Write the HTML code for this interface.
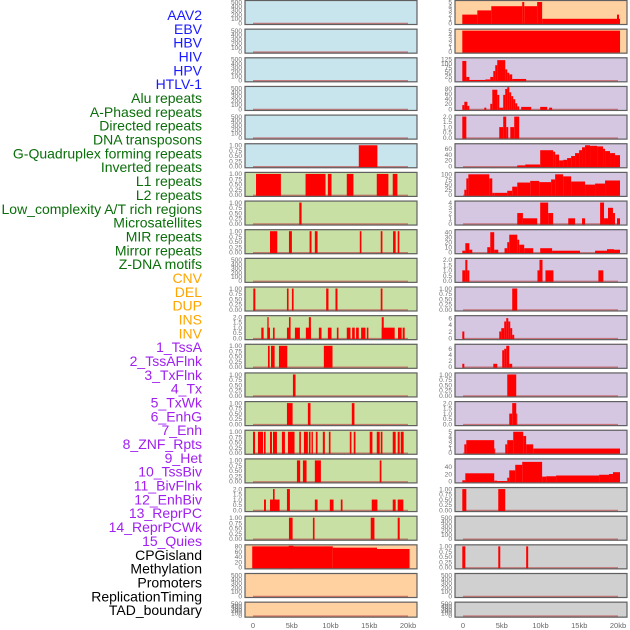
<!DOCTYPE html>
<html><head><meta charset="utf-8">
<style>
body{margin:0;background:#fff;width:630px;height:630px;overflow:hidden;font-family:"Liberation Sans",sans-serif}
svg{display:block}
</style></head><body>
<svg id="chart" width="630" height="630" xmlns="http://www.w3.org/2000/svg"></svg>
<script>
const trackLabels=["AAV2","EBV","HBV","HIV","HPV","HTLV-1","Alu repeats","A-Phased repeats","Directed repeats","DNA transposons","G-Quadruplex forming repeats","Inverted repeats","L1 repeats","L2 repeats","Low_complexity A/T rich regions","Microsatellites","MIR repeats","Mirror repeats","Z-DNA motifs","CNV","DEL","DUP","INS","INV","1_TssA","2_TssAFlnk","3_TxFlnk","4_Tx","5_TxWk","6_EnhG","7_Enh","8_ZNF_Rpts","9_Het","10_TssBiv","11_BivFlnk","12_EnhBiv","13_ReprPC","14_ReprPCWk","15_Quies","CPGisland","Methylation","Promoters","ReplicationTiming","TAD_boundary"];
const labelColors=["#1a1aff","#1a1aff","#1a1aff","#1a1aff","#1a1aff","#1a1aff","#0a6e0a","#0a6e0a","#0a6e0a","#0a6e0a","#0a6e0a","#0a6e0a","#0a6e0a","#0a6e0a","#0a6e0a","#0a6e0a","#0a6e0a","#0a6e0a","#0a6e0a","#ffa500","#ffa500","#ffa500","#ffa500","#ffa500","#a020f0","#a020f0","#a020f0","#a020f0","#a020f0","#a020f0","#a020f0","#a020f0","#a020f0","#a020f0","#a020f0","#a020f0","#a020f0","#a020f0","#a020f0","#000","#000","#000","#000","#000"];
const xTickValues=[0,5,10,15,20];
const xTickLabels=["0","5kb","10kb","15kb","20kb"];
const T500=[0,100,200,300,400,500],T1=[0,0.25,0.5,0.75,1],T2=[0,0.5,1,1.5,2];
const leftTicks=[T500,T500,T500,T500,T500,T1,T1,T1,T1,T500,T1,T2,T1,T1,T1,T1,T1,T2,T1,[0,20,40,60,80],T500,T500];
const leftYmax=[500,500,500,500,500,1,1,1,1,500,1,2,1,1,1,1,1,2,1,80,500,500];
const leftBg=["#c8e4ec","#c8e4ec","#c8e4ec","#c8e4ec","#c8e4ec","#c8e4ec","#c8e0a4","#c8e0a4","#c8e0a4","#c8e0a4","#c8e0a4","#c8e0a4","#c8e0a4","#c8e0a4","#c8e0a4","#c8e0a4","#c8e0a4","#c8e0a4","#c8e0a4","#ffd0a0","#ffd0a0","#ffd0a0"];
const leftSegments=[[],[],[],[],[],
[[13.65,16.05,1]],
[[0.39,3.6,1],[6.78,9.36,1],[9.66,10.13,1],[12.1,12.96,1],[15.97,17.47,1],[18.03,18.63,1]],
[[5.97,6.27,1]],
[[2.19,3.13,1],[4.64,5.02,1],[7.3,7.55,1],[7.98,8.33,1],[13.78,13.99,1],[16.48,16.7,1],[18.07,18.41,1],[18.67,18.88,1]],
[],
[[0.04,0.3,1],[4.38,4.59,1],[5.02,5.24,1],[9.44,9.74,1],[10.64,10.9,1],[16.48,16.7,1]],
[[1.07,1.37,1],[1.85,2.19,1],[2.58,2.79,1],[4.38,4.81,1],[5.41,6.05,1],[6.82,7.47,1],[8.5,8.84,1],[9.66,10.13,1],[10.82,11.03,1],[12.1,12.58,1],[12.79,13.13,1],[13.3,13.65,1],[13.95,14.51,1],[14.68,14.89,1],[16.61,18.28,1],[18.71,19.18,1],[19.31,19.57,1],[1.85,2.02,2],[4.64,4.85,2],[7.21,7.47,2],[16.61,16.87,2]],
[[1.93,2.15,1],[2.32,2.79,1],[3.35,4.42,1],[9.14,10.26,1]],
[[5.15,5.49,1]],
[[4.38,5.11,1],[7.08,7.42,1],[12.75,13.09,1]],
[[0,0.26,1],[0.64,1.29,1],[1.42,1.63,1],[2.19,2.45,1],[2.58,3.09,1],[3.73,4.12,1],[4.51,5.36,1],[5.97,6.18,1],[6.57,7.08,1],[7.21,7.42,1],[7.55,7.73,1],[8.11,8.33,1],[9.01,9.27,1],[9.79,10.0,1],[12.49,12.7,1],[13.0,13.22,1],[15.06,15.41,1],[15.97,16.35,1],[16.48,16.7,1],[18.03,18.41,1],[18.67,18.93,1],[19.06,19.44,1]],
[[5.67,6.09,1],[6.44,6.91,1],[7.98,8.76,1],[16.35,16.57,1]],
[[1.42,1.67,1],[2.19,3.43,1],[7.98,8.33,1],[9.91,10.39,1],[11.33,11.55,1],[15.32,16.05,1],[18.03,18.41,1],[18.67,19.4,1],[2.58,2.79,2],[4.38,4.76,2]],
[[4.64,5.11,1],[7.73,7.94,1],[15.19,15.67,1],[18.67,18.93,1]],
[[-0.1,10.3,80],[10.3,16.0,75],[16.0,20.2,70],[4.6,5.2,82]],
[],[]];
const rightTicks=[[0,1,2,3,4,5],[0,1,2,3,4,5],[0,25,50,75,100,125],[0,20,40,60,80],T2,[0,20,40,60],[0,25,50,75,100],[0,1,2,3,4],[0,10,20,30,40],T2,T1,[0,2,4,6],[0,2,4,6],T1,T2,[0,1,2,3,4,5],[0,20,40],T1,T500,T1,T500,T500];
const rightYmax=[5,5,125,82,2,72,102,4,42,2,1,6.3,7,1,2,5,57,1,500,1,500,500];
const rightBg=["#ffd0a0","#ffd0a0","#d5c6e2","#d5c6e2","#d5c6e2","#d5c6e2","#d5c6e2","#d5c6e2","#d5c6e2","#d5c6e2","#d5c6e2","#d5c6e2","#d5c6e2","#d5c6e2","#d5c6e2","#d5c6e2","#d5c6e2","#d0d0d0","#d0d0d0","#d0d0d0","#d0d0d0","#d0d0d0"];
const rightSegments=[
[[-0.09,1.85,2],[1.85,3.65,3],[3.65,7.64,4],[7.64,7.9,5],[7.9,9.57,4],[9.57,10.21,5],[10.21,19.87,1],[19.87,20.13,2],[20.13,20.26,1]],
[[-0.09,20.26,5]],
[[-0.09,0.43,115],[0.43,0.82,20],[0.82,2.88,2],[2.88,3.52,5],[3.52,3.91,20],[3.91,4.16,55],[4.16,4.42,90],[4.42,5.45,120],[5.45,5.71,65],[5.71,5.97,45],[5.97,6.35,35],[6.35,8.15,8]],
[[-0.09,0.17,15],[0.17,0.56,28],[0.56,0.82,12],[2.75,3.0,5],[3.52,3.78,20],[3.78,4.42,75],[4.42,4.68,55],[4.68,5.19,5],[5.19,5.45,55],[5.45,5.71,78],[5.71,5.97,85],[5.97,6.22,65],[6.22,6.48,50],[6.48,6.74,38],[6.74,7.0,22],[7.0,7.25,10],[7.51,8.8,8],[9.96,10.86,8],[11.12,11.5,5]],
[[-0.09,0.43,2],[4.68,5.19,1],[5.19,5.58,2],[5.58,5.84,1],[6.1,6.61,1],[6.61,7.25,2]],
[[7.0,8.03,3],[8.03,9.96,6],[9.96,11.63,55],[11.63,11.89,50],[11.89,12.4,40],[12.4,12.92,20],[12.92,13.43,22],[13.43,13.95,28],[13.95,14.46,35],[14.46,14.98,45],[14.98,15.36,55],[15.36,15.75,65],[15.75,16.39,72],[16.39,17.3,70],[17.3,18.07,68],[18.07,18.33,60],[18.33,18.97,52],[18.97,19.61,45],[19.61,20.26,38]],
[[0.17,0.43,25],[0.43,0.69,80],[0.69,3.39,100],[3.39,3.78,80],[3.78,4.03,10],[4.03,5.71,10],[5.71,6.35,20],[6.35,7.0,40],[7.0,8.67,60],[8.67,9.83,68],[9.83,11.37,62],[11.37,11.89,75],[11.89,12.92,100],[12.92,13.95,90],[13.95,15.75,65],[15.75,17.04,50],[17.04,18.33,55],[18.33,20.26,70]],
[[7.0,7.73,2],[7.73,9.57,1],[9.96,10.99,4],[10.99,11.63,2],[13.58,14.46,1],[15.36,15.75,1],[17.69,18.2,4],[18.2,18.71,1],[18.71,19.35,3],[19.35,19.61,2],[19.87,20.26,1]],
[[-0.09,0.3,3],[0.3,0.82,18],[0.82,1.2,5],[3.13,3.52,10],[3.52,4.03,40],[4.03,4.55,5],[5.36,5.71,8],[5.71,5.97,20],[5.97,7.0,35],[7.0,7.25,25],[7.25,7.9,15],[7.9,9.06,8],[9.96,11.5,8],[11.5,15.1,3],[17.04,18.58,3],[18.58,19.48,6],[19.48,20.26,5]],
[[-0.09,0.3,1],[0.3,0.56,2],[0.56,0.82,1],[9.61,9.87,1],[9.87,10.26,2],[10.64,11.67,1],[17.47,18.11,1]],
[[6.35,6.99,1]],
[[-0.09,0.17,2],[4.68,4.94,2],[4.94,5.32,3],[5.32,5.58,5],[5.58,5.84,6],[5.84,6.1,5],[6.1,6.35,3],[6.35,6.61,1]],
[[-0.09,0.17,1],[3.91,4.42,1],[5.06,5.32,5.5],[5.32,5.58,6],[5.58,5.97,7],[5.97,6.35,1]],
[[5.71,6.87,1]],
[[5.97,6.35,1],[6.35,6.87,2],[6.87,7.0,1]],
[[0.17,0.43,2],[0.43,4.03,3],[4.03,4.16,1],[5.45,5.71,2],[5.71,6.48,3],[6.48,7.77,5],[7.77,8.15,4],[8.15,9.06,2],[9.06,20.26,1]],
[[-0.09,0.3,3],[0.3,4.03,22],[4.03,4.42,2],[4.42,5.71,1],[5.71,5.97,10],[5.97,6.74,30],[6.74,7.64,45],[7.64,10.21,53],[10.21,10.73,13],[10.73,12.01,14],[12.01,17.56,16],[17.56,18.84,18],[18.84,19.35,20],[19.35,20.26,25]],
[[-0.09,0.43,1],[4.55,5.45,1]],
[],
[[-0.09,0.3,1],[4.55,4.81,1],[8.15,8.41,1]],
[],[]];

const NS="http://www.w3.org/2000/svg";
const svg=document.getElementById('chart');
function mk(tag,attrs,parent){const e=document.createElementNS(NS,tag);for(const k in attrs)e.setAttribute(k,attrs[k]);(parent||svg).appendChild(e);return e;}
const PITCH=28.65;
function rowTop(i){return i*PITCH;}
function rowH(i){return i===21?16:25;}
const cols=[{x0:245,x1:417,z:253,w:155,ticks:leftTicks,ymax:leftYmax,bg:leftBg,seg:leftSegments,name:'left'},
            {x0:455,x1:627,z:463,w:155,ticks:rightTicks,ymax:rightYmax,bg:rightBg,seg:rightSegments,name:'right'}];
function fmt(v,ticks){const dec=ticks.some(t=>t%1!==0);if(!dec)return String(v);const two=ticks.some(t=>Math.round(t*100)%50!==0);return two?v.toFixed(2):v.toFixed(1);}
trackLabels.forEach((t,i)=>{const e=mk('text',{x:202,y:15+i*13.84+5,'text-anchor':'end','font-size':'14',fill:labelColors[i]});e.textContent=t;

});
cols.forEach(c=>{
  const xs=kb=>c.z+kb/20*c.w;
  for(let i=0;i<22;i++){
    const top=rowTop(i),h=rowH(i),bot=top+h;
    const g=mk('g',{});
    
    
    mk('rect',{x:c.x0,y:top,width:c.x1-c.x0,height:h,fill:c.bg[i]},g);
    const ys=v=>bot-2-v/c.ymax[i]*(h-4);
    mk('line',{x1:xs(0),x2:xs(20),y1:bot-1.5,y2:bot-1.5,stroke:'#c05050','stroke-width':1.5,opacity:0.7},g);
    c.seg[i].forEach(s=>{const r=mk('rect',{x:xs(s[0]),y:ys(s[2]),width:Math.max(0.8,xs(s[1])-xs(s[0])),height:ys(0)-ys(s[2])+1,fill:'#ff0000'},g);
      
      });
    mk('rect',{x:c.x0,y:top+0.5,width:c.x1-c.x0,height:h-1,fill:'none',stroke:'#606060','stroke-width':1.2},g);
    c.ticks[i].forEach(t=>{const e=mk('text',{x:c.x0-3,y:ys(t)+2.3,'text-anchor':'end','font-size':'6.6',fill:'#707070'},g);e.textContent=fmt(t,c.ticks[i]);
      
      });
  }
  xTickValues.forEach((v,k)=>{const e=mk('text',{x:xs(v),y:628,'text-anchor':'middle','font-size':'7.5',fill:'#666'});e.textContent=xTickLabels[k];
    
    });
});
</script>
</body></html>
